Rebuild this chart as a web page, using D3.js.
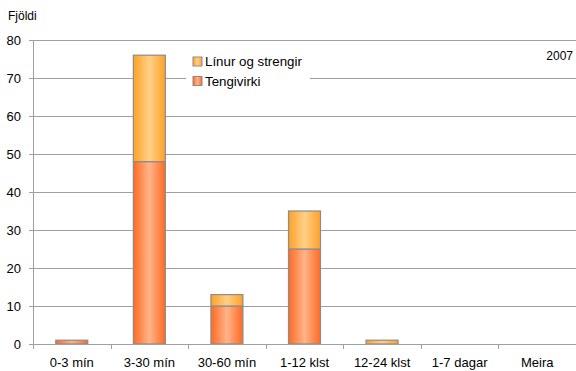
<!DOCTYPE html>
<html>
<head>
<meta charset="utf-8">
<script src="https://cdn.jsdelivr.net/npm/d3@7"></script>
<style>
  html, body { margin: 0; padding: 0; background: #fff; }
  svg { display: block; font-family: "Liberation Sans", Arial, sans-serif; }
</style>
</head>
<body>
<svg id="chart" width="576" height="371"></svg>
<script>
// Fjöldi truflana eftir lengd, 2007
const categories = ["0-3 mín", "3-30 mín", "30-60 mín", "1-12 klst", "12-24 klst", "1-7 dagar", "Meira"];
const tengivirki = [1, 48, 10, 25, 0, 0, 0];
const linur = [0, 28, 3, 10, 1, 0, 0];
const seriesNames = ["Tengivirki", "Línur og strengir"];
const yTicks = [0, 10, 20, 30, 40, 50, 60, 70, 80];

const svg = d3.select("#chart");
const plotLeft = 33, plotRight = 576, plotTop = 40, plotBottom = 344;

const x = d3.scaleBand().domain(categories).range([plotLeft, plotRight]).paddingInner(0).paddingOuter(0);
const y = d3.scaleLinear().domain([0, 80]).range([plotBottom, plotTop]);
const barW = 32;

// gradients for the cylinder-like bar shading
const defs = svg.append("defs");
function grad(id, edge, mid) {
  const g = defs.append("linearGradient").attr("id", id).attr("x1", "0%").attr("x2", "100%").attr("y1", "0%").attr("y2", "0%");
  g.append("stop").attr("offset", "0%").attr("stop-color", edge);
  g.append("stop").attr("offset", "50%").attr("stop-color", mid);
  g.append("stop").attr("offset", "100%").attr("stop-color", edge);
}
grad("gTeng", "#ff6a22", "#ffb48a");
grad("gLin", "#ffa126", "#ffd088");

// gridlines
svg.append("g").selectAll("line").data(yTicks.filter(d => d > 0)).join("line")
  .attr("x1", plotLeft).attr("x2", plotRight)
  .attr("y1", d => y(d)).attr("y2", d => y(d))
  .attr("stroke", "#a0a0a0").attr("stroke-width", 1).attr("shape-rendering", "crispEdges");

// y axis
const yAxis = d3.axisLeft(y).tickValues(yTicks).tickSize(4).tickPadding(8);
const gy = svg.append("g").attr("transform", `translate(${plotLeft},0)`).call(yAxis);
gy.select(".domain").attr("stroke", "#a0a0a0").attr("shape-rendering", "crispEdges");
gy.selectAll(".tick line").attr("stroke", "#a0a0a0").attr("shape-rendering", "crispEdges");
gy.selectAll("text").attr("font-size", 13).attr("fill", "#000").attr("font-family", "Liberation Sans, Arial, sans-serif");

// stacked bars
const stackData = categories.map((c, i) => ({ cat: c, Tengivirki: tengivirki[i], "Línur og strengir": linur[i] }));
const stacked = d3.stack().keys(seriesNames)(stackData);
const fills = { "Tengivirki": "url(#gTeng)", "Línur og strengir": "url(#gLin)" };

svg.append("g").selectAll("g").data(stacked).join("g")
  .attr("fill", s => fills[s.key])
  .selectAll("rect").data(s => s.filter(d => d[1] - d[0] > 0)).join("rect")
  .attr("x", d => x(d.data.cat) + x.bandwidth() / 2 - barW / 2)
  .attr("width", barW)
  .attr("y", d => y(d[1]))
  .attr("height", d => y(d[0]) - y(d[1]))
  .attr("stroke", "#8c8c8c").attr("stroke-width", 1.2);

// x axis
const xAxis = d3.axisBottom(x).tickSize(0).tickPadding(14);
const gx = svg.append("g").attr("transform", `translate(0,${plotBottom})`).call(xAxis);
gx.select(".domain").remove();
gx.selectAll("text").attr("font-size", 13).attr("fill", "#000").attr("font-family", "Liberation Sans, Arial, sans-serif");
svg.append("line").attr("x1", plotLeft).attr("x2", plotRight).attr("y1", plotBottom).attr("y2", plotBottom)
  .attr("stroke", "#a0a0a0").attr("shape-rendering", "crispEdges");
svg.append("g").selectAll("line").data(categories).join("line")
  .attr("x1", d => Math.round(x(d)) + 0.5).attr("x2", d => Math.round(x(d)) + 0.5)
  .attr("y1", plotBottom).attr("y2", plotBottom + 5)
  .attr("stroke", "#a0a0a0");

// axis title
svg.append("text").attr("x", 8).attr("y", 20).attr("font-size", 12).text("Fjöldi");

// year label
svg.append("text").attr("x", 573).attr("y", 60).attr("text-anchor", "end").attr("font-size", 12).text("2007");

// legend
const legend = svg.append("g");
legend.append("rect").attr("x", 186).attr("y", 50).attr("width", 124).attr("height", 44).attr("fill", "#fff");
const legItems = ["Línur og strengir", "Tengivirki"];
legItems.forEach((name, i) => {
  const yy = 57 + i * 19.5;
  legend.append("rect").attr("x", 193).attr("y", yy).attr("width", 9).attr("height", 9)
    .attr("fill", i === 0 ? "url(#gLin)" : "url(#gTeng)").attr("stroke", "#8c8c8c");
  legend.append("text").attr("x", 205).attr("y", yy + 9).attr("font-size", 13.3).text(name);
});
</script>
</body>
</html>
